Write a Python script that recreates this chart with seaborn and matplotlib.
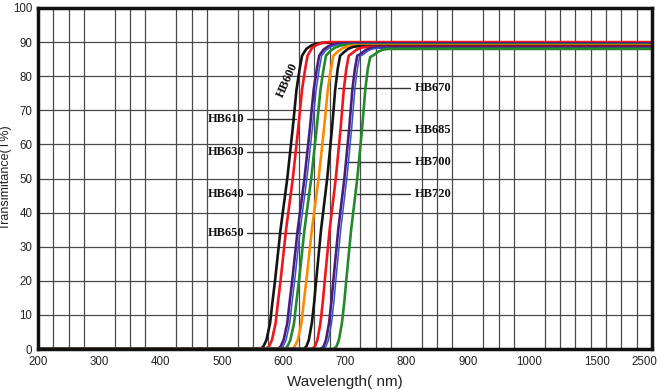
import numpy as np
import pandas as pd
import matplotlib
matplotlib.use("Agg")
import matplotlib.pyplot as plt
import matplotlib.transforms as mtransforms
import seaborn as sns

# ---------------- data ----------------
hb600_wl = [200, 562, 567, 572, 578, 582, 586, 595, 606, 615, 621, 626, 630, 637, 645, 654, 664, 2500]
hb600_t = [0, 0, 0.7, 2.6, 7.6, 14, 20, 35, 50, 65, 76, 82, 86, 88.0, 89.0, 89.6, 89.8, 89.8]
hb610_wl = [200, 571, 576, 581, 587, 591, 595, 604, 615, 624, 630, 635, 639, 646, 654, 663, 673, 2500]
hb610_t = [0, 0, 0.7, 2.6, 7.6, 14, 20, 35, 50, 65, 76, 82, 86, 88.2, 89.2, 89.8, 90.0, 90.0]
hb630_wl = [200, 590, 595, 600, 606, 610, 614, 623, 634, 643, 649, 654, 658, 665, 673, 682, 692, 2500]
hb630_t = [0, 0, 0.7, 2.6, 7.6, 14, 20, 35, 50, 65, 76, 82, 86, 87.8, 88.8, 89.4, 89.6, 89.6]
hb635_wl = [200, 594, 599, 604, 610, 614, 618, 627, 638, 647, 653, 658, 662, 669, 677, 686, 696, 2500]
hb635_t = [0, 0, 0.7, 2.6, 7.6, 14, 20, 35, 50, 65, 76, 82, 86, 87.6, 88.6, 89.2, 89.4, 89.4]
hb640_wl = [200, 601, 606, 611, 617, 621, 625, 634, 645, 654, 660, 665, 669, 676, 684, 693, 703, 2500]
hb640_t = [0, 0, 0.7, 2.6, 7.6, 14, 20, 35, 50, 65, 76, 82, 86, 87.4, 88.4, 89.0, 89.2, 89.2]
hb650_wl = [200, 613, 618, 623, 629, 633, 637, 646, 657, 666, 672, 677, 681, 688, 696, 705, 715, 2500]
hb650_t = [0, 0, 0.7, 2.6, 7.6, 14, 20, 35, 50, 65, 76, 82, 86, 87.2, 88.2, 88.8, 89.0, 89.0]
hb670_wl = [200, 632, 637, 641, 646, 650, 653, 661, 671, 679, 684, 688, 692, 698, 705, 713, 722, 2500]
hb670_t = [0, 0, 0.7, 2.6, 7.6, 14, 20, 35, 50, 65, 76, 82, 86, 87.0, 88.0, 88.6, 88.8, 88.8]
hb685_wl = [200, 646, 651, 655, 660, 664, 667, 675, 685, 693, 698, 702, 706, 712, 719, 727, 736, 2500]
hb685_t = [0, 0, 0.7, 2.6, 7.6, 14, 20, 35, 50, 65, 76, 82, 86, 86.8, 87.8, 88.4, 88.6, 88.6]
hb700_wl = [200, 660, 665, 669, 674, 678, 681, 689, 699, 707, 712, 716, 720, 726, 733, 741, 750, 2500]
hb700_t = [0, 0, 0.7, 2.6, 7.6, 14, 20, 35, 50, 65, 76, 82, 86, 86.6, 87.6, 88.2, 88.4, 88.4]
hb705_wl = [200, 664, 669, 673, 678, 682, 685, 693, 703, 711, 716, 720, 724, 730, 737, 745, 754, 2500]
hb705_t = [0, 0, 0.7, 2.6, 7.6, 14, 20, 35, 50, 65, 76, 82, 85.8, 86.4, 87.4, 88.0, 88.2, 88.2]
hb720_wl = [200, 681, 686, 690, 695, 699, 702, 710, 720, 728, 733, 737, 741, 747, 754, 762, 771, 2500]
hb720_t = [0, 0, 0.7, 2.6, 7.6, 14, 20, 35, 50, 65, 76, 82, 85.6, 86.2, 87.2, 87.8, 88.0, 88.0]

series_names = ["HB600", "HB610", "HB630", "HB635", "HB640", "HB650",
                "HB670", "HB685", "HB700", "HB705", "HB720"]
series_wl = [hb600_wl, hb610_wl, hb630_wl, hb635_wl, hb640_wl, hb650_wl,
             hb670_wl, hb685_wl, hb700_wl, hb705_wl, hb720_wl]
series_t = [hb600_t, hb610_t, hb630_t, hb635_t, hb640_t, hb650_t,
            hb670_t, hb685_t, hb700_t, hb705_t, hb720_t]
series_colors = ["#141414", "#f3141c", "#4b1c7e", "#3454c4", "#23892c", "#ff8a00",
                 "#141414", "#f3141c", "#4b1c7e", "#3454c4", "#23892c"]
series_lw = [1.9, 1.9, 1.9, 1.1, 1.9, 1.9, 1.9, 1.9, 1.9, 1.1, 1.9]

x_ticks = [200, 300, 400, 500, 600, 700, 800, 900, 1000, 1500, 2500]
x_tick_labels = ["200", "300", "400", "500", "600", "700", "800", "900", "1000", "1500", "2500"]
y_ticks = [0, 10, 20, 30, 40, 50, 60, 70, 80, 90, 100]

# left-side labels: name, T level, end of leader line (nm)
left_labels = ["HB610", "HB630", "HB640", "HB650"]
left_label_t = [67.4, 57.8, 45.5, 34.1]
left_line_end = [621, 638, 643, 629]
# right-side labels: name, T level, start of leader line (nm)
right_labels = ["HB670", "HB685", "HB700", "HB720"]
right_label_t = [76.4, 64.2, 54.9, 45.5]
right_line_start = [688, 694, 703, 719]

# ---------------- axis scale (piecewise, as in the reference) ----------------
scale_wl = [200, 1000, 1500, 2500]
scale_pos = [0, 32, 36.4, 40]

def fwd(x):
    return np.interp(x, scale_wl, scale_pos)

def inv(p):
    return np.interp(p, scale_pos, scale_wl)

# ---------------- plotting ----------------
sns.set_style("white")
plt.rcParams["font.family"] = ["Liberation Sans", "DejaVu Sans"]

fig = plt.figure(figsize=(6.6, 3.9), dpi=100, facecolor="white")
ax = fig.add_axes([38 / 660, 1 - 349 / 390, (652 - 38) / 660, (349 - 8) / 390])

ax.set_xscale("function", functions=(fwd, inv))
ax.set_xlim(200, 2500)
ax.set_ylim(0, 100)

for name, wl, t, c, lw in zip(series_names, series_wl, series_t, series_colors, series_lw):
    df = pd.DataFrame({"wl": wl, "T": t})
    sns.lineplot(data=df, x="wl", y="T", ax=ax, color=c, linewidth=lw,
                 estimator=None, sort=False, legend=False, zorder=3)

# grid
cell_wl = inv(np.arange(0, 41))
ax.set_xticks(cell_wl, minor=True)
ax.set_xticks(x_ticks)
ax.set_xticklabels(x_tick_labels)
ax.set_yticks(y_ticks)
ax.xaxis.grid(True, which="minor", color="#4a4a4a", linewidth=0.9)
ax.xaxis.grid(False, which="major")
ax.yaxis.grid(True, which="major", color="#4a4a4a", linewidth=0.9)
ax.set_axisbelow(True)
ax.tick_params(axis="both", which="both", length=0, labelsize=8.3, colors="#222222")
ax.tick_params(axis="x", pad=5)
ax.tick_params(axis="y", pad=4)

# shift last label left so it fits inside the figure
last = ax.get_xticklabels()[-1]
last.set_transform(last.get_transform() + mtransforms.ScaledTranslation(-8 / 100, 0, fig.dpi_scale_trans))

for s in ax.spines.values():
    s.set_visible(True)
    s.set_color("#111111")
    s.set_linewidth(2.5)
    s.set_zorder(5)

ax.set_xlabel("Wavelength( nm)", fontsize=11, color="#222222", labelpad=5)
ax.set_ylabel("Transimitance(T%)", fontsize=9, color="#222222")
ax.yaxis.set_label_coords(-0.043, 0.505)

# curve labels
lab_font = dict(family=["Liberation Serif", "DejaVu Serif"], fontweight="bold",
                fontsize=9, color="#111111")
ax.text(607, 79, "HB600", rotation=66, ha="center", va="center",
        rotation_mode="anchor", zorder=6, **lab_font)

for name, t, xe in zip(left_labels, left_label_t, left_line_end):
    ax.text(537, t, name, ha="right", va="center", zorder=6, **lab_font)
    ax.plot([540, xe], [t, t], color="#333333", linewidth=1.0, zorder=2)

for name, t, xs in zip(right_labels, right_label_t, right_line_start):
    ax.plot([xs, 806], [t, t], color="#333333", linewidth=1.0, zorder=2)
    ax.text(814, t, name, ha="left", va="center", zorder=6, **lab_font)

fig.savefig("out.png", dpi=100, facecolor="white")
